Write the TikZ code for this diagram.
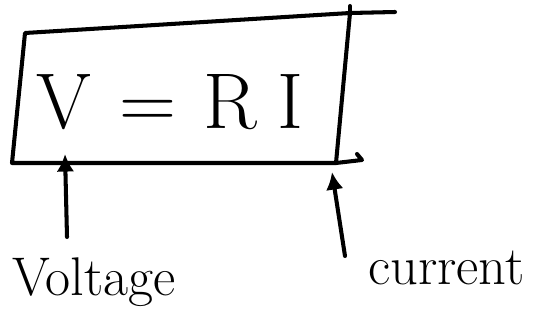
\documentclass[tikz,border=0pt]{standalone}
\usepackage{fontspec}
\usetikzlibrary{positioning,arrows.meta,calc}
\tikzset{>={Latex[length=10pt,width=10pt]}}
\tikzset{ink/.style={line width=2.3pt, line cap=round, line join=round}}
\tikzset{hand/.style={inner sep=0pt, font=\fontsize{31}{36}\selectfont}}

\begin{document}
\begin{tikzpicture}[x=0.02cm, y=-0.02cm]
          \useasboundingbox (0,0) rectangle (558,335);
          % the box, corners named
          \coordinate (tl) at (25,33);
          \coordinate (tr) at (350,13);
          \coordinate (br) at (336,163);
          \coordinate (bl) at (12,163);
          \draw[ink] (tl) -- (tr) -- (br) -- (bl) -- cycle;
          \draw[ink] (tr) -- (395,12);
          \draw[ink] (tr) -- (350,6);
          \draw[ink] (br) -- (362,160) -- (357,154);
          \node[inner sep=0pt, font=\fontsize{45}{52}\selectfont] (eqn) at (170,102)
            {V\hspace{0.35em}=\hspace{0.35em}R\hspace{0.25em}I};
          % labels and arrows
          \node[hand, anchor=north west] (volt) at (12,257) {Voltage};
          \node[hand, anchor=south west] (curr) at (368,285) {current};
          \coordinate (vtail) at (67,237);
          \coordinate (vtip) at (65,154);
          \coordinate (ctail) at (345,256);
          \coordinate (ctip) at (332,172);
          \draw[ink, ->] (vtail) -- (vtip);
          \draw[ink, ->] (ctail) -- (ctip);
        \end{tikzpicture}
\end{document}
